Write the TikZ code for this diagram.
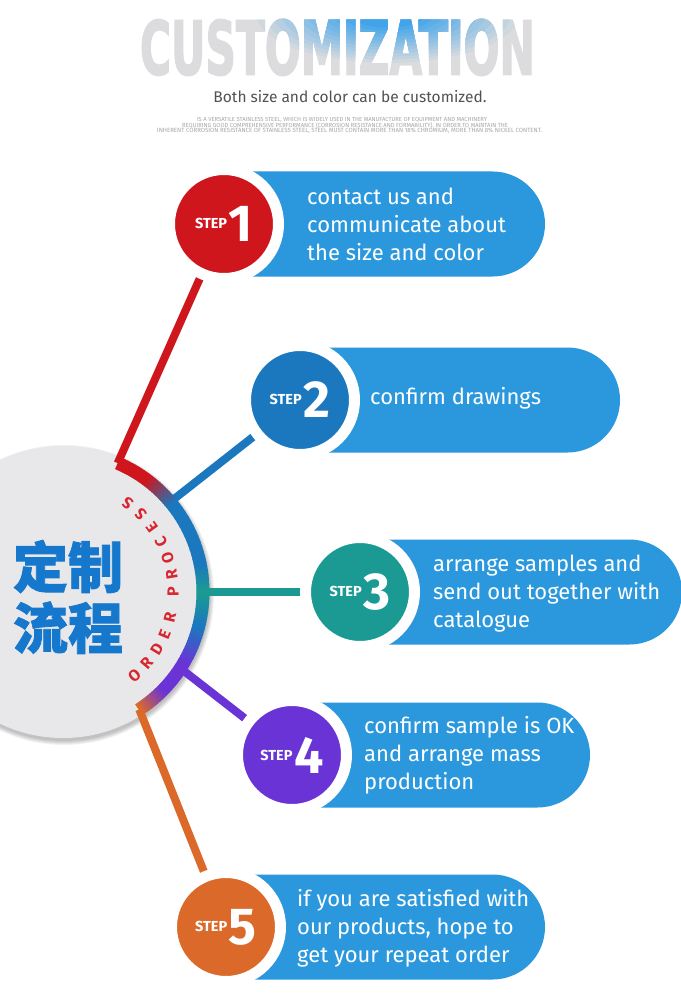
\documentclass[tikz,border=0pt]{standalone}
\usepackage{fontspec}
\setmainfont{Fira Sans}
\newfontfamily\cjk{Noto Sans CJK SC}[BoldFeatures={FakeBold=1.5}]
\newfontfamily\titlefont{DejaVu Sans}[BoldFeatures={FakeBold=2.5}]
\usepackage{tikz}
\usepackage{xcolor}

\definecolor{stepred}{HTML}{CF161D}
\definecolor{stepblue}{HTML}{1B78BE}
\definecolor{stepteal}{HTML}{1B9A93}
\definecolor{steppurple}{HTML}{6A33D6}
\definecolor{steporange}{HTML}{DB6A2A}
\definecolor{pillblue}{HTML}{2B98DE}
\definecolor{hubgray}{HTML}{E8E8EA}
\definecolor{cnblue}{HTML}{1678CC}
\definecolor{ordered}{HTML}{D9252E}
\definecolor{titlegray}{HTML}{DCDCDE}
\definecolor{titleblue}{HTML}{3AA2EA}

\tikzset{
  link/.style={line width=8pt},
  ringseg/.style={line width=13pt},
  pill/.style={fill=pillblue},
  stepdot/.style={circle, draw=white, line width=11pt, minimum size=109pt, inner sep=0pt, text=white},
  steptext/.style={anchor=west, align=left, inner sep=0pt, text=white, font=\fontsize{22}{28}\selectfont},
  arcletter/.style={inner sep=0pt, text=ordered, font=\fontsize{16}{16}\selectfont\bfseries},
}

% heading word, drawn several times
\newcommand\titleword{\resizebox{395pt}{55pt}{\titlefont\bfseries CUSTOMIZATION}}
% one badge label: small STEP and a big digit
\newcommand\stepno[1]{\raisebox{13pt}{\fontsize{14.5}{16}\selectfont\bfseries STEP}\,{\fontsize{52}{52}\selectfont\bfseries #1}}
% a pill behind a badge: centre, length of the straight part
\newcommand\drawpill[2]{\fill[pill] (#1) ++(0,52.5) -- ++(#2,0) arc[start angle=90, end angle=-90, radius=52.5pt] -- ++(-#2,0) -- cycle;}
% colour ramp along the hub ring
\newcommand\ringpart[4]{%
  \foreach \k in {0,...,11}{%
    \pgfmathsetmacro\ringa{#1+(#3-#1)*\k/12}%
    \pgfmathsetmacro\ringb{\ringa+(#3-#1)/12*1.25}%
    \pgfmathtruncatemacro\ringmix{100*\k/11}%
    \draw[ringseg, #4!\ringmix!#2] (hub) ++(\ringa:140pt) arc[start angle=\ringa, end angle=\ringb, radius=140pt];
  }}

\begin{document}
\begin{tikzpicture}[x=1pt, y=1pt]
\useasboundingbox (0,0) rectangle (680,-1000);
\fill[white] (0,0) rectangle (680,-1000);

% heading, blue glow on top of the middle letters
\node[text=titlegray, inner sep=0pt] (title) at (337.5,-47.5) {\titleword};
\foreach \i in {1,...,12}{
  \pgfmathtruncatemacro\glow{8*\i}
  \begin{scope}
    \clip (388,-14) ellipse[x radius={(140-8.5*\i)*1pt}, y radius={(52-3.2*\i)*1pt}];
    \node[text=titleblue!\glow!titlegray, inner sep=0pt] at (title.center) {\titleword};
  \end{scope}
}
\node[text=black!68, font=\fontsize{15.5}{18}\selectfont] (sub) at (350,-97) {Both size and color can be customized.};
\node[text=black!35, inner sep=0pt] (fine1) at (342,-120) {\resizebox{290pt}{!}{\fontsize{5}{6}\selectfont IS A VERSATILE STAINLESS STEEL, WHICH IS WIDELY USED IN THE MANUFACTURE OF EQUIPMENT AND MACHINERY}};
\node[text=black!35, inner sep=0pt] (fine2) at (345,-125.5) {\resizebox{326pt}{!}{\fontsize{5}{6}\selectfont REQUIRING GOOD COMPREHENSIVE PERFORMANCE (CORROSION RESISTANCE AND FORMABILITY). IN ORDER TO MAINTAIN THE}};
\node[text=black!35, inner sep=0pt] (fine3) at (349.5,-131) {\resizebox{385pt}{!}{\fontsize{5}{6}\selectfont INHERENT CORROSION RESISTANCE OF STAINLESS STEEL, STEEL MUST CONTAIN MORE THAN 18\% CHROMIUM, MORE THAN 8\% NICKEL CONTENT.}};

% hub
\coordinate (hub) at (63,-592);
\foreach \s in {1,...,5}
  \fill[black, opacity=0.05] ([xshift=1pt, yshift=-3pt]hub) circle[radius={(145+\s)*1pt}];
\fill[hubgray] (hub) circle[radius=146pt];

\coordinate (c1) at (224,-224);
\coordinate (c2) at (300,-400);
\coordinate (c3) at (360,-592);
\coordinate (c4) at (292,-755);
\coordinate (c5) at (226,-927);
\path (hub) ++(67:140pt) coordinate (r1);
\path (hub) ++(40:140pt) coordinate (r2);
\path (hub) ++(0:140pt) coordinate (r3);
\path (hub) ++(-33:140pt) coordinate (r4);
\path (hub) ++(-57:140pt) coordinate (r5);

% connectors
\draw[link, stepred] (r1) -- (c1);
\draw[link, stepblue] (r2) -- (c2);
\draw[link, stepteal] (r3) -- (c3);
\draw[link, steppurple] (r4) -- (c4);
\draw[link, steporange] (r5) -- (c5);

% ring
\ringpart{67}{stepred}{54}{stepred}
\ringpart{54}{stepred}{38}{stepblue}
\ringpart{38}{stepblue}{12}{stepblue}
\ringpart{12}{stepblue}{0}{stepteal}
\ringpart{0}{stepteal}{-14}{stepblue}
\ringpart{-14}{stepblue}{-31}{steppurple}
\ringpart{-31}{steppurple}{-44}{steppurple}
\ringpart{-44}{steppurple}{-57}{steporange}

% ORDER PROCESS round the inside of the ring
\foreach \ch/\ang [count=\n] in {O/-49.5, R/-40.5, D/-31.5, E/-22.5, R/-13.5, P/0, R/9, O/18, C/27, E/36, S/45, S/54}
  \node[arcletter, rotate=\ang+90] (op\n) at ([shift={(\ang:110pt)}]hub) {\ch};
\node[text=cnblue, align=center, font=\cjk\bfseries\fontsize{55}{61}\selectfont] (cn) at (68,-597) {定制\\流程};

% steps
\drawpill{c1}{268.5}
\drawpill{c2}{267.5}
\drawpill{c3}{269.5}
\drawpill{c4}{245.5}
\drawpill{c5}{266.5}
\node[stepdot, fill=stepred] (s1) at (c1) {\stepno{1}};
\node[stepdot, fill=stepblue] (s2) at (c2) {\stepno{2}};
\node[stepdot, fill=stepteal] (s3) at (c3) {\stepno{3}};
\node[stepdot, fill=steppurple] (s4) at (c4) {\stepno{4}};
\node[stepdot, fill=steporange] (s5) at (c5) {\stepno{5}};
\node[steptext] (t1) at (307,-224) {contact us and\\communicate about\\the size and color};
\node[steptext] (t2) at (370,-398) {confirm drawings};
\node[steptext] (t3) at (433,-594) {arrange samples and\\send out together with\\catalogue};
\node[steptext] (t4) at (364,-755) {confirm sample is OK\\and arrange mass\\production};
\node[steptext] (t5) at (297,-928) {if you are satisfied with\\our products, hope to\\get your repeat order};
\end{tikzpicture}
\end{document}
